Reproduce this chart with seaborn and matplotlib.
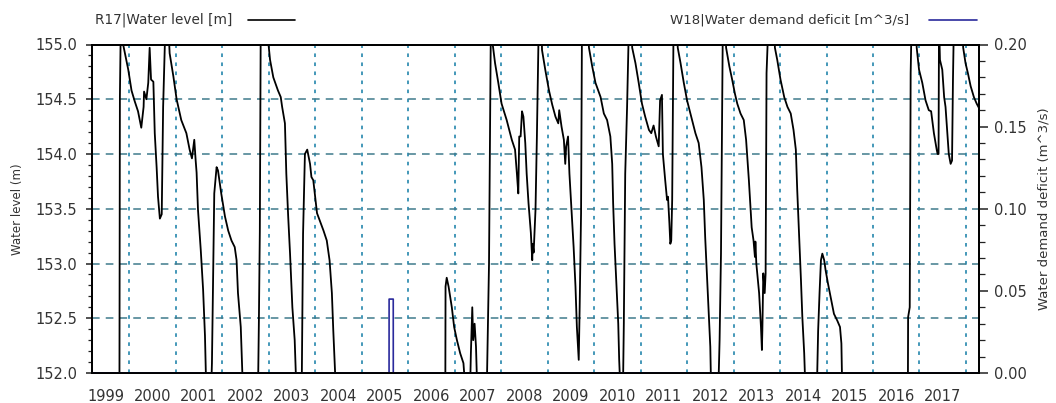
import matplotlib
matplotlib.use("Agg")
import matplotlib.pyplot as plt
import matplotlib.transforms as mtransforms
from matplotlib.lines import Line2D
from matplotlib.ticker import MultipleLocator, FormatStrFormatter
import seaborn as sns
import pandas as pd

# reservoir R17 water level, decimal years (values outside 152-155 are off the chart)
level_years = [
    1999.20, 1999.79, 1999.80, 1999.82, 1999.855, 1999.87, 1999.98, 2000.05, 2000.12, 2000.19,
    2000.26, 2000.31, 2000.32, 2000.37, 2000.41, 2000.44, 2000.47, 2000.52, 2000.55, 2000.59,
    2000.62, 2000.66, 2000.70, 2000.73, 2000.78, 2000.84, 2000.87, 2000.95, 2001.02, 2001.12,
    2001.23, 2001.30, 2001.35, 2001.40, 2001.43, 2001.45, 2001.48, 2001.54, 2001.59, 2001.63,
    2001.66, 2001.76, 2001.78, 2001.83, 2001.88, 2001.91, 2001.98, 2002.06, 2002.13, 2002.20,
    2002.27, 2002.31, 2002.34, 2002.40, 2002.45, 2002.77, 2002.79, 2002.81, 2002.83, 2002.95,
    2003.03, 2003.10, 2003.20, 2003.26, 2003.29, 2003.35, 2003.38, 2003.42, 2003.46, 2003.51,
    2003.56, 2003.60, 2003.71, 2003.74, 2003.78, 2003.83, 2003.89, 2003.92, 2003.96, 2004.04,
    2004.11, 2004.18, 2004.25, 2004.31, 2004.36, 2004.39, 2004.45, 2006.80, 2006.805, 2006.83,
    2006.87, 2006.94, 2006.99, 2007.05, 2007.12, 2007.19, 2007.24, 2007.33, 2007.35, 2007.38,
    2007.40, 2007.43, 2007.46, 2007.49, 2007.69, 2007.71, 2007.74, 2007.78, 2007.82, 2007.87,
    2007.94, 2008.01, 2008.12, 2008.23, 2008.30, 2008.34, 2008.37, 2008.39, 2008.42, 2008.45,
    2008.48, 2008.52, 2008.55, 2008.59, 2008.64, 2008.67, 2008.68, 2008.70, 2008.74, 2008.77,
    2008.81, 2008.87, 2008.88, 2008.95, 2009.03, 2009.10, 2009.17, 2009.23, 2009.25, 2009.30,
    2009.35, 2009.38, 2009.40, 2009.44, 2009.47, 2009.51, 2009.56, 2009.60, 2009.63, 2009.67,
    2009.69, 2009.72, 2009.74, 2009.87, 2009.89, 2009.96, 2010.03, 2010.14, 2010.21, 2010.28,
    2010.35, 2010.39, 2010.41, 2010.44, 2010.48, 2010.52, 2010.54, 2010.57, 2010.62, 2010.64,
    2010.67, 2010.71, 2010.75, 2010.80, 2010.82, 2010.89, 2010.96, 2011.03, 2011.10, 2011.18,
    2011.23, 2011.28, 2011.33, 2011.39, 2011.42, 2011.46, 2011.48, 2011.53, 2011.57, 2011.59,
    2011.62, 2011.64, 2011.66, 2011.68, 2011.71, 2011.78, 2011.80, 2011.86, 2011.93, 2012.00,
    2012.09, 2012.18, 2012.25, 2012.31, 2012.36, 2012.39, 2012.43, 2012.47, 2012.50, 2012.52,
    2012.67, 2012.70, 2012.73, 2012.77, 2012.82, 2012.84, 2012.91, 2012.97, 2013.03, 2013.08,
    2013.15, 2013.22, 2013.27, 2013.33, 2013.39, 2013.43, 2013.46, 2013.47, 2013.49, 2013.51,
    2013.55, 2013.59, 2013.61, 2013.62, 2013.64, 2013.67, 2013.69, 2013.71, 2013.75, 2013.87,
    2013.89, 2013.94, 2014.01, 2014.09, 2014.16, 2014.23, 2014.29, 2014.34, 2014.37, 2014.41,
    2014.45, 2014.48, 2014.52, 2014.55, 2014.79, 2014.82, 2014.85, 2014.88, 2014.91, 2014.95,
    2014.98, 2015.03, 2015.09, 2015.16, 2015.23, 2015.29, 2015.32, 2015.34, 2016.75, 2016.755,
    2016.79, 2016.81, 2016.83, 2016.92, 2016.94, 2016.99, 2017.06, 2017.13, 2017.20, 2017.25,
    2017.31, 2017.37, 2017.39, 2017.41, 2017.42, 2017.44, 2017.49, 2017.53, 2017.56, 2017.60,
    2017.63, 2017.67, 2017.70, 2017.72, 2017.74, 2017.92, 2017.94, 2017.99, 2018.04, 2018.10,
    2018.17, 2018.23, 2018.28,
]
level_values = [
    151.8, 151.8, 154.52, 155.2, 155.2, 155.0, 154.77, 154.58, 154.48, 154.39,
    154.24, 154.43, 154.57, 154.50, 154.65, 154.97, 154.68, 154.66, 154.19, 153.88,
    153.61, 153.41, 153.45, 154.43, 155.2, 155.2, 154.92, 154.71, 154.50, 154.31,
    154.19, 154.04, 153.96, 154.13, 153.94, 153.83, 153.49, 153.12, 152.76, 152.34,
    151.8, 151.8, 152.09, 153.64, 153.88, 153.85, 153.64, 153.43, 153.30, 153.21,
    153.15, 153.03, 152.73, 152.42, 151.8, 151.8, 152.48, 153.29, 155.2, 155.2,
    154.86, 154.70, 154.58, 154.52, 154.43, 154.28, 153.82, 153.43, 153.09, 152.60,
    152.30, 151.8, 151.8, 153.27, 154.00, 154.04, 153.91, 153.79, 153.76, 153.46,
    153.38, 153.30, 153.21, 153.03, 152.73, 152.39, 151.8, 151.8, 152.79, 152.87,
    152.79, 152.60, 152.42, 152.30, 152.18, 152.09, 151.8, 151.8, 152.18, 152.60,
    152.30, 152.45, 152.24, 151.8, 151.8, 152.27, 153.00, 155.2, 155.0, 154.83,
    154.65, 154.46, 154.31, 154.13, 154.04, 153.82, 153.64, 154.16, 154.16, 154.39,
    154.34, 154.10, 153.82, 153.55, 153.28, 153.03, 153.18, 153.10, 153.49, 154.16,
    155.2, 155.2, 154.95, 154.77, 154.58, 154.45, 154.34, 154.28, 154.40, 154.25,
    154.13, 153.91, 154.07, 154.16, 153.82, 153.52, 153.15, 152.79, 152.42, 152.12,
    152.60, 153.46, 155.2, 155.2, 154.97, 154.80, 154.65, 154.52, 154.37, 154.31,
    154.16, 153.91, 153.55, 153.18, 152.82, 152.45, 152.12, 151.8, 151.8, 152.45,
    153.82, 154.43, 155.2, 155.2, 154.97, 154.83, 154.65, 154.46, 154.34, 154.22,
    154.19, 154.26, 154.16, 154.07, 154.49, 154.54, 154.00, 153.76, 153.58, 153.61,
    153.37, 153.18, 153.21, 153.58, 155.2, 155.2, 154.97, 154.83, 154.65, 154.49,
    154.34, 154.19, 154.10, 153.88, 153.58, 153.24, 152.88, 152.51, 152.24, 151.8,
    151.8, 152.30, 153.09, 155.2, 155.2, 154.97, 154.80, 154.68, 154.55, 154.46,
    154.37, 154.31, 154.13, 153.76, 153.33, 153.21, 153.06, 153.20, 153.00, 152.91,
    152.73, 152.42, 152.21, 152.39, 152.91, 152.73, 152.91, 154.74, 155.2, 155.2,
    154.97, 154.86, 154.68, 154.52, 154.43, 154.37, 154.22, 154.04, 153.67, 153.27,
    152.85, 152.51, 152.18, 151.8, 151.8, 152.39, 152.73, 153.03, 153.09, 153.03,
    152.94, 152.82, 152.69, 152.54, 152.48, 152.42, 152.27, 151.8, 151.8, 152.51,
    152.60, 154.74, 155.2, 155.2, 154.97, 154.77, 154.65, 154.49, 154.40, 154.39,
    154.19, 154.04, 154.00, 154.00, 155.2, 154.86, 154.77, 154.52, 154.43, 154.19,
    154.00, 153.91, 153.94, 154.68, 155.2, 155.2, 154.97, 154.83, 154.74, 154.62,
    154.52, 154.46, 154.42,
]

# demand site W18 deficit (m^3/s)
deficit_years = [1999.20, 2005.59, 2005.591, 2005.68, 2005.681, 2018.28]
deficit_values = [0.0, 0.0, 0.045, 0.045, 0.0, 0.0]

year_labels = [str(y) for y in range(1999, 2018)]
level_name = "R17|Water level [m]"
deficit_name = "W18|Water demand deficit [m^3/s]"

level_df = pd.DataFrame({"year": level_years, "level": level_values})
deficit_df = pd.DataFrame({"year": deficit_years, "deficit": deficit_values})

sns.set_style("white")
plt.rcParams["font.family"] = ["DejaVu Sans"]

W, H = 1056, 403
fig = plt.figure(figsize=(W / 100, H / 100), dpi=100)
ax = fig.add_axes([92 / W, 1 - 373 / H, (979 - 92) / W, (373 - 44.5) / H])

sns.lineplot(data=level_df, x="year", y="level", ax=ax, color="black",
             linewidth=1.3, estimator=None, sort=False)

ax.set_xlim(1999.2, 2018.28)
ax.set_ylim(152.0, 155.0)

ax.yaxis.set_major_locator(MultipleLocator(0.5))
ax.yaxis.set_minor_locator(MultipleLocator(0.1))
ax.yaxis.set_major_formatter(FormatStrFormatter("%.1f"))
ax.xaxis.set_major_locator(MultipleLocator(1))
ax.xaxis.set_minor_locator(MultipleLocator(1 / 12))

ax.yaxis.grid(True, which="major", color="#3f7a8c", linestyle=(0, (5, 4)), linewidth=1.1)
ax.xaxis.grid(True, which="major", color="#3590b3", linestyle=(0, (2, 3)), linewidth=1.3)

ax.tick_params(axis="x", which="major", direction="out", length=10, width=1.2,
               color="#222222", labelbottom=False)
ax.tick_params(axis="x", which="minor", direction="out", length=3, width=0.9,
               color="#222222")
ax.tick_params(axis="y", which="major", direction="out", length=4.5, width=1.1,
               color="#222222", pad=6, labelsize=10.5, labelcolor="#333333", left=True)
ax.tick_params(axis="y", which="minor", direction="out", length=3, width=0.9,
               color="#222222", left=True)

for s in ax.spines.values():
    s.set_color("black")
    s.set_linewidth(1.3)

ax.set_xlabel("")
ax.set_ylabel("Water level (m)", fontsize=8.5, color="#333333", labelpad=8)

# year labels sit in the middle of each year
trans = mtransforms.blended_transform_factory(ax.transData, ax.transAxes)
for lab in year_labels:
    ax.text(int(lab) + 0.5, -0.048, lab, transform=trans, ha="center", va="top",
            fontsize=10.5, color="#333333")

ax2 = ax.twinx()
sns.lineplot(data=deficit_df, x="year", y="deficit", ax=ax2, color="#2a2a9c",
             linewidth=1.2, estimator=None, sort=False)
ax2.set_ylim(0.0, 0.2)
ax2.yaxis.set_major_locator(MultipleLocator(0.05))
ax2.yaxis.set_minor_locator(MultipleLocator(0.01))
ax2.yaxis.set_major_formatter(FormatStrFormatter("%.2f"))
ax2.tick_params(axis="y", which="major", direction="out", length=6.5, width=1.1,
                color="#222222", pad=4, labelsize=10.5, labelcolor="#333333", right=True)
ax2.tick_params(axis="y", which="minor", direction="out", length=4, width=0.9,
                color="#222222", right=True)
ax2.set_xlabel("")
ax2.set_ylabel("Water demand deficit (m^3/s)", fontsize=9.5, color="#333333",
               rotation=90, labelpad=8)
for s in ax2.spines.values():
    s.set_color("black")
    s.set_linewidth(1.3)

# legend entries above the plot
ly = 1 - 20 / H
fig.text(95 / W, ly, level_name, ha="left", va="center", fontsize=9.8, color="#333333")
fig.add_artist(Line2D([248 / W, 295 / W], [ly, ly], color="black", linewidth=1.2))
fig.text(670 / W, ly, deficit_name, ha="left", va="center", fontsize=9.6, color="#333333")
fig.add_artist(Line2D([929 / W, 977 / W], [ly, ly], color="#2a2a9c", linewidth=1.2))

fig.savefig("out.png", dpi=100)
plt.close(fig)
